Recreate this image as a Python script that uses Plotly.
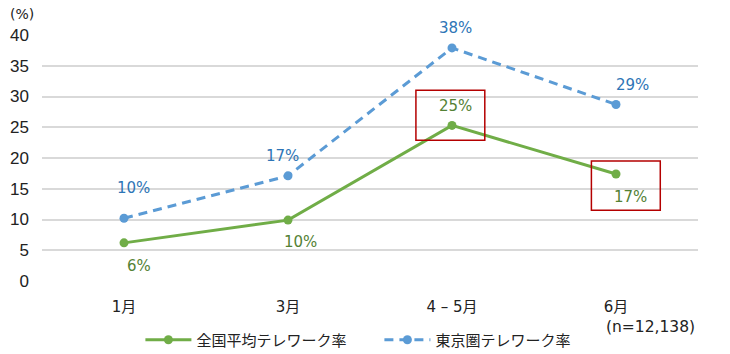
import plotly.graph_objects as go

categories = ["1月", "3月", "4 – 5月", "6月"]
national = [6.2, 9.9, 25.3, 17.4]
tokyo = [10.2, 17.1, 37.9, 28.7]
national_labels = ["6%", "10%", "25%", "17%"]
tokyo_labels = ["10%", "17%", "38%", "29%"]
y_ticks = [0, 5, 10, 15, 20, 25, 30, 35, 40]

FONT = "DejaVu Sans, Noto Sans CJK JP, sans-serif"
CJK = "Noto Sans CJK JP, sans-serif"
GREEN = "#70AD47"
BLUE = "#5B9BD5"
GREEN_TXT = "#548235"
BLUE_TXT = "#2E75B6"

fig = go.Figure()
fig.add_trace(go.Scatter(
    x=categories, y=national, name="全国平均テレワーク率", mode="lines+markers",
    line=dict(color=GREEN, width=3), marker=dict(size=9, color=GREEN),
))
fig.add_trace(go.Scatter(
    x=categories, y=tokyo, name="東京圏テレワーク率", mode="lines+markers",
    line=dict(color=BLUE, width=3, dash="9px,6px"), marker=dict(size=9, color=BLUE),
))

annotations = []
nat_shift = [(15, -23), (12, -22), (3, 19), (14, -23)]
tok_shift = [(9, 30), (-6, 20), (3, 20), (16, 20)]
for i, c in enumerate(categories):
    annotations.append(dict(x=c, y=national[i], text=national_labels[i], showarrow=False,
                            xshift=nat_shift[i][0], yshift=nat_shift[i][1],
                            font=dict(family=FONT, size=15, color=GREEN_TXT)))
    annotations.append(dict(x=c, y=tokyo[i], text=tokyo_labels[i], showarrow=False,
                            xshift=tok_shift[i][0], yshift=tok_shift[i][1],
                            font=dict(family=FONT, size=15, color=BLUE_TXT)))

annotations.append(dict(xref="paper", yref="paper", x=-0.031, y=1.085, text="(%)", showarrow=False,
                        xanchor="center", yanchor="middle",
                        font=dict(family=FONT, size=14, color="#222")))
annotations.append(dict(xref="paper", yref="paper", x=0.927, y=-0.187, text="(n=12,138)", showarrow=False,
                        xanchor="center", yanchor="middle",
                        font=dict(family=FONT, size=15.5, color="#222")))

shapes = []
rects = [(1.78, 2.20, 22.9, 31.0), (2.85, 3.27, 11.5, 19.5)]
for (x0, x1, y0, y1) in rects:
    shapes.append(dict(type="rect", xref="x", yref="y", x0=x0, x1=x1, y0=y0, y1=y1,
                       line=dict(color="#B40000", width=1.5), fillcolor="rgba(0,0,0,0)"))

fig.update_layout(
    width=730, height=354,
    margin=dict(l=42, r=32, t=35, b=73, autoexpand=False),
    paper_bgcolor="white", plot_bgcolor="white",
    font=dict(family=FONT, size=14, color="#222"),
    annotations=annotations, shapes=shapes,
    legend=dict(orientation="h", x=0.15, xanchor="left", y=-0.24, yanchor="middle",
                font=dict(family=CJK, size=15, color="#222"), itemwidth=46,
                entrywidth=178, tracegroupgap=0),
    showlegend=True,
)
fig.update_xaxes(type="category", range=[-0.5, 3.5], showgrid=False, showline=False,
                 zeroline=False, ticks="", ticklabelstandoff=15, automargin=False,
                 tickfont=dict(family=FONT, size=15, color="#222"))
fig.update_yaxes(range=[0, 40], tickvals=y_ticks, showgrid=True, gridcolor="#D9D9D9",
                 gridwidth=1.5, zeroline=False, showline=False, ticks="", automargin=False,
                 ticklabelstandoff=12,
                 tickfont=dict(family="Liberation Sans, Arial, sans-serif", size=17, color="#222"))

fig.write_html("out.html")
